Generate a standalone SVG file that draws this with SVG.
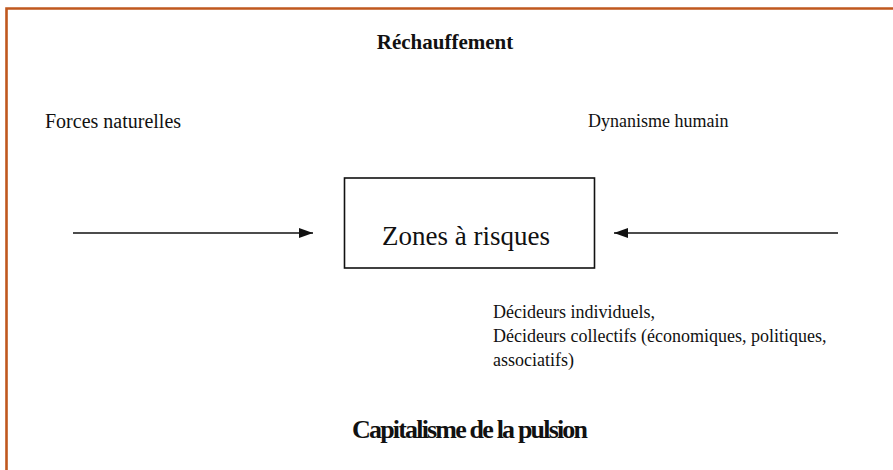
<svg xmlns="http://www.w3.org/2000/svg" width="893" height="470" viewBox="0 0 893 470">
<style>
  .t { font-family: "Liberation Serif", "Times New Roman", serif; fill: #111; }
  .lbl { font-size: 18px; }
  .conn { stroke: #111; stroke-width: 1.6; fill: none; }
  .frame { stroke: #c0581e; stroke-width: 2.6; fill: none; }
</style>
<defs>
  <marker id="arrow" viewBox="0 0 14 10" refX="14" refY="5" markerWidth="14" markerHeight="10" markerUnits="userSpaceOnUse" orient="auto">
    <path d="M0,0 L14,5 L0,10 Z" fill="#111"/>
  </marker>
</defs>
<rect width="893" height="470" fill="#ffffff"/>
<path class="frame" d="M6.5,470 L6.5,8.5 L893,8.5"/>
<g id="title">
  <text class="t" x="445" y="49" font-size="21" font-weight="bold" text-anchor="middle">Réchauffement</text>
</g>
<g id="forces">
  <text class="t" x="45" y="128" font-size="20">Forces naturelles</text>
</g>
<g id="dynanisme">
  <text class="t lbl" x="588" y="127">Dynanisme humain</text>
</g>
<g id="zones">
  <rect x="344.5" y="178" width="250" height="90" fill="none" stroke="#111" stroke-width="1.6"/>
  <text class="t" x="466" y="245" font-size="27" text-anchor="middle">Zones à risques</text>
</g>
<g id="decideurs">
  <text class="t lbl" x="493" y="318">Décideurs individuels,</text>
  <text class="t lbl" x="493" y="342">Décideurs collectifs (économiques, politiques,</text>
  <text class="t lbl" x="493" y="366">associatifs)</text>
</g>
<g id="capitalisme">
  <text class="t" x="352" y="438" font-size="26" font-weight="bold" textLength="236" lengthAdjust="spacing">Capitalisme de la pulsion</text>
</g>
<g id="connectors">
  <line class="conn" x1="73" y1="233" x2="313" y2="233" marker-end="url(#arrow)"/>
  <line class="conn" x1="838" y1="233" x2="614" y2="233" marker-end="url(#arrow)"/>
</g>
</svg>
